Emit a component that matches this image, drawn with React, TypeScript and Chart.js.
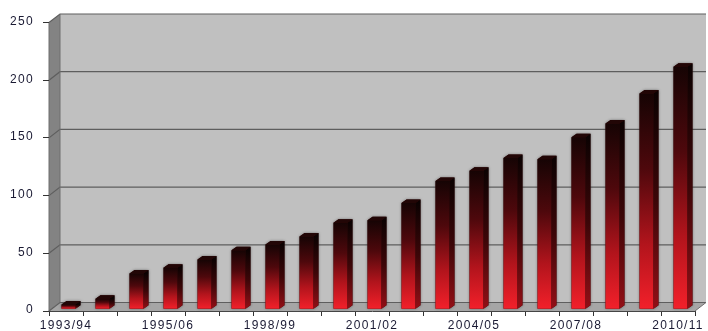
import { useEffect, useRef } from 'react';
import { Chart, registerables } from 'chart.js';

Chart.register(...registerables);

// Season categories (only every third season carries a printed label)
const seasons = [
  '1993/94', '', '', '1995/06', '', '', '1998/99', '', '', '2001/02',
  '', '', '2004/05', '', '', '2007/08', '', '', '2010/11',
];
const values = [4, 9, 31, 36, 43, 51, 56, 63, 75, 77, 92, 111, 120, 131, 130, 149, 161, 187, 210];
const yTicks = [0, 50, 100, 150, 200, 250];

// Depth of the 3D room (back wall offset from the front plane)
const WALL_DX = 11;
const WALL_DY = -8.5;
// Bars sit slightly behind the front plane and have their own depth
const BAR_SHIFT_X = 2.5;
const BAR_SHIFT_Y = -1.8;
const BAR_DX = 5;
const BAR_DY = -3.5;

type Pt = [number, number];

function fillPoly(ctx: CanvasRenderingContext2D, pts: Pt[], fill: string | CanvasGradient) {
  ctx.beginPath();
  ctx.moveTo(pts[0][0], pts[0][1]);
  for (let i = 1; i < pts.length; i++) ctx.lineTo(pts[i][0], pts[i][1]);
  ctx.closePath();
  ctx.fillStyle = fill;
  ctx.fill();
}

const room3d = {
  id: 'room3d',
  beforeDraw(chart: any) {
    const { ctx, chartArea } = chart;
    const { left, right, top, bottom } = chartArea;
    const yScale = chart.scales.y;
    ctx.letterSpacing = '1.3px';
    ctx.save();
    // back wall
    ctx.fillStyle = '#c0c0c0';
    ctx.fillRect(left + WALL_DX, top + WALL_DY, right - left, bottom - top);
    // left wall
    fillPoly(ctx, [[left, top], [left + WALL_DX, top + WALL_DY], [left + WALL_DX, bottom + WALL_DY], [left, bottom]], '#838383');
    // floor
    fillPoly(ctx, [[left, bottom], [left + WALL_DX, bottom + WALL_DY], [right + WALL_DX, bottom + WALL_DY], [right, bottom]], '#a6a6a6');

    // gridlines bent over the left wall and across the back wall
    ctx.strokeStyle = '#5e5e5e';
    ctx.lineWidth = 1.2;
    for (const v of yTicks) {
      const py = yScale.getPixelForValue(v);
      ctx.beginPath();
      ctx.moveTo(left, py);
      ctx.lineTo(left + WALL_DX, py + WALL_DY);
      ctx.lineTo(right + WALL_DX, py + WALL_DY);
      ctx.stroke();
    }

    // room edges
    ctx.strokeStyle = '#6e6e6e';
    ctx.lineWidth = 1;
    ctx.beginPath();
    ctx.moveTo(left, bottom);
    ctx.lineTo(left, top);
    ctx.moveTo(left + WALL_DX, top + WALL_DY);
    ctx.lineTo(left + WALL_DX, bottom + WALL_DY);
    ctx.moveTo(right, bottom);
    ctx.lineTo(right + WALL_DX, bottom + WALL_DY);
    ctx.stroke();
    ctx.restore();
  },
  afterDatasetsDraw(chart: any) {
    const { ctx } = chart;
    const meta = chart.getDatasetMeta(0);
    ctx.save();
    meta.data.forEach((bar: any) => {
      const { x, y, base, width } = bar.getProps(['x', 'y', 'base', 'width'], true);
      const x0 = x - width / 2 + BAR_SHIFT_X;
      const x1 = x0 + width;
      const yTop = y + BAR_SHIFT_Y;
      const yBase = base + BAR_SHIFT_Y;

      // soft halo around the whole column
      ctx.save();
      ctx.shadowColor = 'rgba(40,40,40,0.55)';
      ctx.shadowBlur = 3;
      fillPoly(ctx, [[x0, yBase], [x0, yTop], [x0 + BAR_DX, yTop + BAR_DY], [x1 + BAR_DX, yTop + BAR_DY], [x1 + BAR_DX, yBase + BAR_DY], [x1, yBase]], '#300808');
      ctx.restore();

      // front face
      const g = ctx.createLinearGradient(0, yTop, 0, yBase);
      g.addColorStop(0, '#160404');
      g.addColorStop(0.35, '#4e080c');
      g.addColorStop(0.7, '#b2141c');
      g.addColorStop(1, '#f2202a');
      fillPoly(ctx, [[x0, yTop], [x1, yTop], [x1, yBase], [x0, yBase]], g);

      // side face
      const gs = ctx.createLinearGradient(0, yTop, 0, yBase);
      gs.addColorStop(0, '#0c0202');
      gs.addColorStop(0.5, '#3c0608');
      gs.addColorStop(1, '#920f16');
      fillPoly(ctx, [[x1, yTop], [x1 + BAR_DX, yTop + BAR_DY], [x1 + BAR_DX, yBase + BAR_DY], [x1, yBase]], gs);

      // top face
      fillPoly(ctx, [[x0, yTop], [x0 + BAR_DX, yTop + BAR_DY], [x1 + BAR_DX, yTop + BAR_DY], [x1, yTop]], '#220606');
    });
    ctx.restore();
  },
};

export default function App() {
  const canvasRef = useRef<HTMLCanvasElement | null>(null);

  useEffect(() => {
    document.body.style.margin = '0';
    const canvas = canvasRef.current;
    if (!canvas) return;
    const tickFont = { family: '"Liberation Sans", Arial, sans-serif', size: 12 };
    const chart = new Chart(canvas, {
      type: 'bar',
      data: {
        labels: seasons,
        datasets: [
          {
            data: values,
            backgroundColor: 'rgba(0,0,0,0)',
            borderWidth: 0,
            barPercentage: 0.41,
            categoryPercentage: 1,
          },
        ],
      },
      options: {
        responsive: false,
        animation: false,
        layout: { padding: { top: 22.5, right: 13, left: 0, bottom: 0 } },
        plugins: { legend: { display: false }, tooltip: { enabled: false } },
        scales: {
          x: {
            offset: true,
            grid: { offset: true, drawOnChartArea: false, drawTicks: true, tickLength: 5, color: '#333' },
            border: { display: true, color: '#454545', width: 1 },
            ticks: { autoSkip: false, maxRotation: 0, padding: 2, color: '#1a1a33', font: tickFont },
            afterFit: (s: any) => { s.height = 20; },
          },
          y: {
            min: 0,
            max: 250,
            grid: { drawOnChartArea: false, drawTicks: true, tickLength: 6, color: '#333' },
            border: { display: false },
            ticks: { stepSize: 50, padding: 9, labelOffset: -1, color: '#1a1a33', font: tickFont },
            afterFit: (s: any) => { s.width = 49; },
          },
        },
      },
      plugins: [room3d],
    });
    return () => chart.destroy();
  }, []);

  return (
    <div style={{ width: 708, height: 331 }}>
      <canvas ref={canvasRef} width={708} height={331} />
    </div>
  );
}
